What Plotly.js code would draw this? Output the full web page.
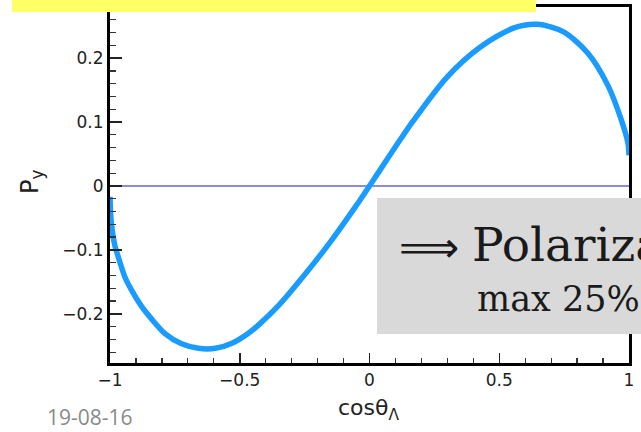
<!DOCTYPE html>
<html>
<head>
<meta charset="utf-8">
<script src="https://cdn.plot.ly/plotly-3.0.1.min.js"></script>
<style>html,body{margin:0;padding:0;background:#fff;}#chart{width:641px;height:432px;}</style>
</head>
<body>
<div id="chart"></div>
<script>
// ---- data ----
const cosTheta = [-1.0, -0.995, -0.982, -0.969, -0.943, -0.917, -0.879, -0.840, -0.788, -0.724,
                  -0.659, -0.594, -0.530, -0.465, -0.426, -0.35, -0.258, -0.15, -0.05, 0.039,
                  0.116, 0.167, 0.298, 0.426, 0.554, 0.647, 0.748, 0.841, 0.919, 0.969, 0.996, 1.0];
const Py = [-0.017, -0.058, -0.092, -0.110, -0.142, -0.163, -0.188, -0.208, -0.231, -0.247,
            -0.254, -0.254, -0.246, -0.230, -0.217, -0.187, -0.143, -0.087, -0.030, 0.024,
            0.071, 0.101, 0.170, 0.217, 0.247, 0.253, 0.241, 0.208, 0.157, 0.105, 0.067, 0.048];
const xRange = [-1, 1];
const yRange = [-0.277, 0.28];
const xTitle = 'cosθ<sub>Λ</sub>';
const yTitle = 'P<sub>y</sub>';
const arrowText = '⟹';
const boxLine1 = 'Polariza';
const boxLine2 = 'max 25%';
const dateText = '19-08-16';

// ---- layout geometry (pixels) ----
const W = 641, H = 432;
const L = 110, R = 629, T = 7, B = 363;
const pw = R - L, ph = B - T;
const px = x => (x - L) / pw;
const py = y => (B - y) / ph;

const trace = {
  x: cosTheta, y: Py, type: 'scatter', mode: 'lines',
  line: {color: '#1a9bff', width: 5.5, shape: 'spline', smoothing: 0.8},
  hoverinfo: 'skip'
};

const tickFont = {family: 'DejaVu Sans, Liberation Sans, Arial', size: 17, color: '#222'};

const layout = {
  width: W, height: H,
  margin: {l: L, r: W - R, t: T, b: H - B, pad: 0},
  paper_bgcolor: '#ffffff', plot_bgcolor: '#ffffff',
  showlegend: false,
  xaxis: {
    range: xRange, tick0: -1, dtick: 0.5,
    showgrid: false, zeroline: false,
    showline: true, linecolor: '#000', linewidth: 3, mirror: true,
    ticks: 'inside', ticklen: 10, tickwidth: 1.5, tickcolor: '#222',
    minor: {dtick: 0.1, ticks: 'inside', ticklen: 5, tickwidth: 1.2, tickcolor: '#333', showgrid: false},
    tickfont: tickFont, fixedrange: true
  },
  yaxis: {
    range: yRange, tick0: 0, dtick: 0.1,
    showgrid: false,
    zeroline: true, zerolinecolor: '#8c8cdc', zerolinewidth: 1.5,
    showline: true, linecolor: '#000', linewidth: 3, mirror: true,
    ticks: 'inside', ticklen: 12, tickwidth: 1.5, tickcolor: '#222',
    minor: {dtick: 0.02, ticks: 'inside', ticklen: 6, tickwidth: 1.2, tickcolor: '#333', showgrid: false},
    tickfont: tickFont, fixedrange: true
  },
  shapes: [
    {type: 'rect', xref: 'paper', yref: 'paper', layer: 'above',
     x0: px(12), x1: px(536), y0: py(12), y1: py(-5),
     fillcolor: '#ffff66', line: {width: 0}},
    {type: 'rect', xref: 'paper', yref: 'paper', layer: 'above',
     x0: px(377), x1: px(660), y0: py(334), y1: py(198),
     fillcolor: '#d9d9d9', line: {width: 0}}
  ],
  annotations: [
    {text: yTitle, xref: 'paper', yref: 'paper', x: px(31), y: py(182),
     xanchor: 'center', yanchor: 'middle', textangle: -90, showarrow: false,
     font: {family: 'DejaVu Sans, Liberation Sans, Arial', size: 24, color: '#222'}},
    {text: xTitle, xref: 'paper', yref: 'paper', x: px(368), y: py(409),
     xanchor: 'center', yanchor: 'middle', showarrow: false,
     font: {family: 'DejaVu Sans, Liberation Sans, Arial', size: 22, color: '#222'}},
    {text: arrowText, xref: 'paper', yref: 'paper', x: px(461), y: py(247),
     xanchor: 'right', yanchor: 'middle', showarrow: false,
     font: {family: 'DejaVu Sans, DejaVu Serif', size: 42, color: '#1a1a1a'}},
    {text: boxLine1, xref: 'paper', yref: 'paper', x: px(470), y: py(244),
     xanchor: 'left', yanchor: 'middle', showarrow: false,
     font: {family: 'DejaVu Serif, Liberation Serif, serif', size: 47, color: '#1a1a1a'}},
    {text: boxLine2, xref: 'paper', yref: 'paper', x: px(475), y: py(299),
     xanchor: 'left', yanchor: 'middle', showarrow: false,
     font: {family: 'DejaVu Serif, Liberation Serif, serif', size: 35, color: '#1a1a1a'}},
    {text: dateText, xref: 'paper', yref: 'paper', x: px(45), y: py(417),
     xanchor: 'left', yanchor: 'middle', showarrow: false,
     font: {family: 'Open Sans, Liberation Sans, sans-serif', size: 21, color: '#8a8a8a'}}
  ]
};

Plotly.newPlot('chart', [trace], layout, {staticPlot: true, displayModeBar: false});
</script>
</body>
</html>
